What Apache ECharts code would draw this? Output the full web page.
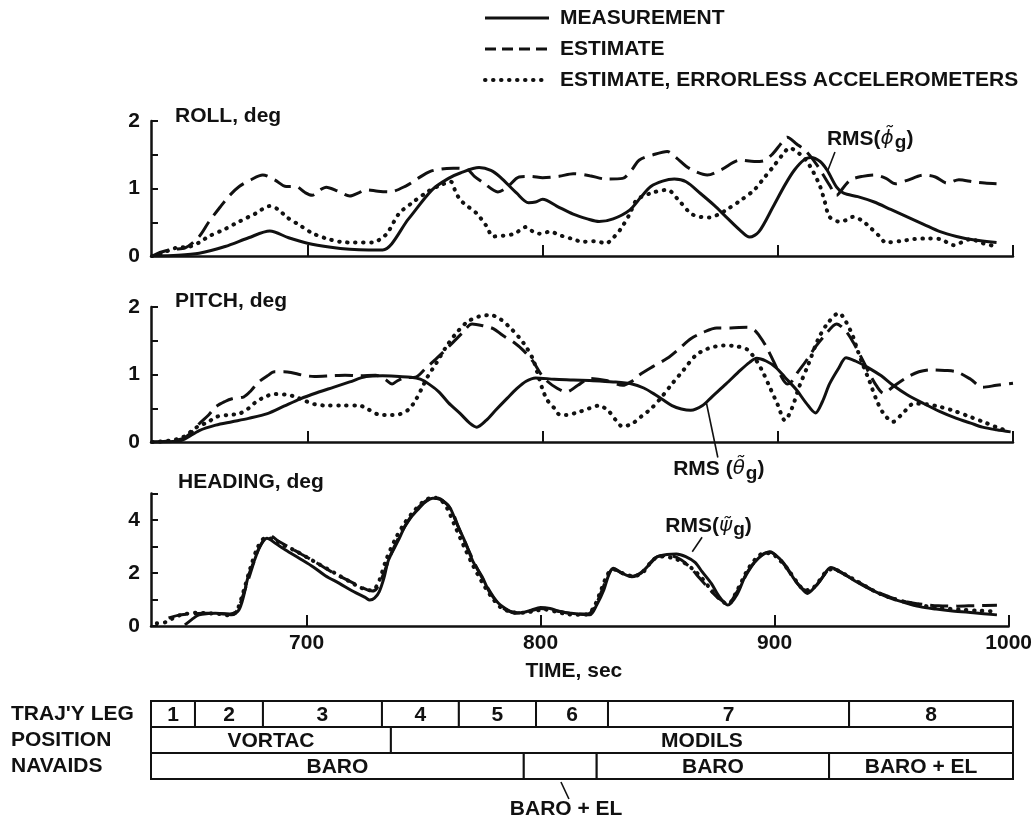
<!DOCTYPE html>
<html>
<head>
<meta charset="utf-8">
<script src="https://cdn.jsdelivr.net/npm/echarts@6/dist/echarts.min.js"></script>
<style>
  html, body { margin: 0; padding: 0; background: #fff; }
  #chart { width: 1035px; height: 821px; }
</style>
</head>
<body>
<div id="chart"></div>
<script>
// Time axis (sec) and its labelled ticks
const timeMin = 633.5;
const timeMax = 1000;
const timeTicks = [700, 800, 900, 1000];

const seriesNames = ['MEASUREMENT', 'ESTIMATE', 'ESTIMATE, ERRORLESS ACCELEROMETERS'];
const panelTitles = ['ROLL, deg', 'PITCH, deg', 'HEADING, deg'];

// ROLL, deg  [time, value]
const rollMeasurement = [[634,0],[645,0.01],[654,0.04],[665,0.14],[675,0.27],[684,0.37],[692,0.27],[700,0.19],[710,0.13],[718,0.10],[726,0.09],[732,0.09],[743,0.55],[753,0.98],[760,1.15],[765,1.23],[773,1.31],[778,1.27],[782,1.17],[789,0.93],[794,0.79],[797,0.80],[800,0.84],[806,0.74],[813,0.62],[819,0.55],[824,0.51],[830,0.55],[837,0.68],[842,0.88],[846,1.03],[851,1.11],[856,1.14],[861,1.10],[867,0.93],[873,0.75],[878,0.58],[884,0.38],[888,0.28],[892,0.36],[898,0.73],[903,1.05],[907,1.27],[911,1.42],[914,1.46],[918,1.40],[921,1.27],[925,1.02],[928,0.93],[934,0.88],[941,0.80],[948,0.69],[955,0.58],[962,0.47],[969,0.36],[976,0.29],[983,0.24],[993,0.20]];
const rollEstimate = [[634,0],[638,0.06],[643,0.10],[648,0.12],[654,0.29],[658,0.50],[663,0.73],[667,0.90],[671,1.03],[676,1.13],[681,1.20],[686,1.13],[691,1.03],[695,1.03],[699,0.94],[702,0.90],[705,0.97],[708,1.02],[713,0.96],[718,0.89],[722,0.94],[725,0.98],[730,0.96],[735,0.95],[742,1.04],[747,1.15],[752,1.25],[757,1.29],[762,1.30],[768,1.28],[771,1.18],[775,1.08],[781,0.95],[785,1.02],[790,1.17],[795,1.18],[800,1.16],[807,1.18],[813,1.22],[820,1.19],[827,1.14],[834,1.15],[838,1.28],[841,1.42],[847,1.50],[853,1.55],[857,1.45],[861,1.33],[865,1.25],[870,1.20],[876,1.28],[884,1.42],[890,1.40],[894,1.41],[898,1.52],[901,1.65],[904,1.76],[908,1.66],[912,1.55],[916,1.38],[919,1.22],[922,1.05],[925,0.90],[928,1.02],[931,1.13],[936,1.18],[941,1.20],[946,1.15],[950,1.07],[955,1.12],[962,1.20],[967,1.17],[972,1.08],[977,1.13],[983,1.10],[988,1.08],[993,1.07]];
const rollErrorless = [[634,0],[638,0.04],[644,0.12],[650,0.14],[654,0.20],[658,0.29],[665,0.40],[671,0.51],[678,0.63],[684,0.74],[688,0.68],[691,0.58],[697,0.45],[702,0.34],[708,0.26],[714,0.21],[720,0.20],[728,0.20],[731,0.25],[734,0.34],[739,0.63],[745,0.80],[751,0.95],[756,1.04],[761,1.10],[763,0.95],[765,0.83],[768,0.74],[772,0.63],[776,0.45],[779,0.29],[783,0.30],[788,0.33],[793,0.43],[796,0.36],[799,0.33],[803,0.36],[808,0.30],[813,0.25],[817,0.21],[822,0.22],[827,0.19],[830,0.27],[833,0.39],[837,0.62],[840,0.83],[846,0.93],[853,0.98],[858,0.82],[863,0.63],[867,0.58],[871,0.57],[875,0.62],[878,0.68],[884,0.82],[890,0.98],[894,1.15],[898,1.32],[902,1.50],[905,1.60],[909,1.52],[912,1.42],[915,1.25],[918,1.03],[920,0.80],[922,0.58],[926,0.51],[929,0.53],[932,0.58],[936,0.52],[939,0.43],[943,0.30],[946,0.20],[952,0.22],[958,0.25],[964,0.26],[969,0.25],[975,0.16],[978,0.20],[982,0.25],[987,0.19],[993,0.14]];

// PITCH, deg
const pitchMeasurement = [[634,0],[646,0.02],[654,0.17],[661,0.25],[668,0.30],[675,0.35],[683,0.42],[690,0.53],[697,0.64],[704,0.73],[711,0.81],[718,0.89],[725,0.97],[732,0.98],[739,0.97],[744,0.96],[748,0.93],[752,0.85],[756,0.74],[760,0.58],[765,0.42],[769,0.28],[772,0.22],[776,0.32],[780,0.47],[785,0.65],[789,0.79],[793,0.90],[797,0.95],[805,0.93],[813,0.92],[820,0.91],[830,0.89],[838,0.86],[843,0.80],[847,0.72],[851,0.63],[855,0.54],[859,0.49],[863,0.47],[868,0.54],[872,0.67],[878,0.86],[884,1.06],[888,1.18],[891,1.24],[895,1.20],[899,1.11],[903,0.96],[908,0.77],[912,0.58],[916,0.43],[919,0.60],[922,0.86],[926,1.10],[929,1.25],[933,1.20],[938,1.11],[944,0.98],[949,0.84],[955,0.70],[962,0.57],[969,0.45],[976,0.35],[982,0.28],[987,0.22],[993,0.18],[999,0.15]];
const pitchEstimate = [[634,0],[640,0.01],[647,0.05],[651,0.15],[654,0.27],[658,0.40],[661,0.52],[665,0.60],[668,0.64],[673,0.67],[676,0.76],[679,0.88],[683,0.98],[686,1.04],[690,1.04],[693,1.03],[698,0.99],[703,0.97],[710,0.98],[716,0.99],[722,0.98],[729,0.99],[733,0.93],[736,0.86],[738,0.90],[741,0.95],[746,0.96],[750,1.08],[754,1.21],[758,1.34],[762,1.48],[766,1.62],[770,1.75],[775,1.72],[779,1.68],[783,1.58],[788,1.47],[792,1.35],[796,1.19],[799,1.02],[802,0.90],[806,0.80],[810,0.74],[815,0.84],[820,0.94],[827,0.91],[834,0.84],[838,0.90],[841,0.99],[847,1.12],[853,1.24],[858,1.38],[863,1.53],[868,1.62],[874,1.69],[880,1.69],[887,1.70],[890,1.66],[892,1.58],[895,1.42],[898,1.21],[901,1.00],[904,0.86],[906,0.90],[908,1.01],[912,1.20],[916,1.41],[920,1.58],[925,1.75],[929,1.64],[932,1.48],[936,1.22],[939,1.01],[942,0.83],[945,0.72],[949,0.82],[955,0.96],[960,1.04],[965,1.07],[971,1.06],[976,1.04],[982,0.93],[987,0.81],[993,0.84],[1000,0.87]];
const pitchErrorless = [[634,0],[641,0.02],[647,0.07],[653,0.22],[658,0.30],[661,0.37],[666,0.40],[671,0.42],[675,0.50],[678,0.59],[682,0.67],[686,0.71],[691,0.70],[695,0.67],[699,0.61],[703,0.56],[708,0.54],[714,0.54],[722,0.54],[726,0.48],[730,0.41],[735,0.40],[739,0.41],[743,0.48],[746,0.62],[749,0.82],[751,0.96],[755,1.18],[759,1.41],[763,1.60],[768,1.78],[773,1.86],[778,1.88],[782,1.82],[786,1.70],[790,1.55],[793,1.41],[796,1.22],[798,1.00],[800,0.78],[802,0.62],[805,0.50],[807,0.41],[810,0.40],[815,0.44],[820,0.50],[824,0.54],[828,0.46],[831,0.33],[834,0.23],[838,0.27],[842,0.38],[846,0.49],[850,0.64],[855,0.86],[860,1.07],[865,1.28],[870,1.38],[877,1.43],[882,1.42],[887,1.37],[891,1.20],[894,1.01],[897,0.78],[900,0.55],[903,0.32],[906,0.50],[909,0.81],[913,1.15],[917,1.51],[921,1.75],[926,1.91],[929,1.78],[932,1.56],[934,1.35],[936,1.16],[939,0.90],[942,0.62],[945,0.42],[949,0.30],[953,0.42],[958,0.57],[963,0.56],[969,0.52],[975,0.46],[982,0.37],[988,0.29],[993,0.22],[997,0.17]];

// HEADING, deg
const headingMeasurement = [[648,0.04],[651,0.25],[654,0.42],[658,0.47],[661,0.48],[665,0.46],[668,0.42],[671,0.60],[673,1.10],[675,1.86],[678,2.55],[680,2.99],[683,3.31],[687,3.10],[691,2.87],[697,2.55],[703,2.22],[708,1.90],[714,1.61],[720,1.30],[725,1.08],[727,0.98],[729,1.05],[731,1.29],[733,1.80],[735,2.49],[739,3.20],[742,3.75],[745,4.15],[748,4.44],[751,4.70],[754,4.82],[757,4.78],[761,4.50],[764,3.90],[768,3.12],[771,2.45],[775,1.86],[778,1.30],[782,0.86],[786,0.60],[789,0.48],[793,0.52],[796,0.60],[800,0.70],[804,0.66],[808,0.55],[813,0.48],[817,0.44],[821,0.42],[824,0.80],[827,1.36],[829,1.90],[831,2.18],[835,1.98],[839,1.86],[843,2.00],[846,2.28],[850,2.62],[854,2.70],[858,2.72],[862,2.62],[866,2.40],[869,2.05],[873,1.60],[876,1.15],[880,0.79],[884,1.20],[888,1.99],[893,2.55],[898,2.80],[902,2.55],[905,2.24],[908,1.82],[911,1.48],[914,1.23],[917,1.45],[920,1.78],[924,2.21],[929,2.00],[934,1.72],[941,1.38],[948,1.10],[955,0.90],[962,0.73],[969,0.64],[976,0.57],[985,0.50],[995,0.42]];
const headingEstimate = [[641,0.30],[645,0.40],[650,0.45],[656,0.48],[661,0.48],[666,0.45],[670,0.55],[673,1.20],[676,2.00],[679,2.80],[682,3.30],[684,3.42],[688,3.20],[693,2.95],[698,2.70],[703,2.45],[708,2.18],[714,1.88],[720,1.62],[725,1.40],[728,1.32],[730,1.42],[733,2.00],[736,2.70],[740,3.45],[744,4.05],[748,4.50],[752,4.78],[755,4.85],[758,4.75],[762,4.35],[765,3.70],[769,2.90],[773,2.15],[777,1.50],[781,0.95],[785,0.62],[790,0.50],[795,0.55],[800,0.66],[805,0.60],[810,0.52],[815,0.45],[820,0.45],[823,0.70],[826,1.30],[829,1.95],[831,2.15],[835,1.98],[839,1.88],[843,2.02],[847,2.40],[850,2.62],[855,2.66],[860,2.50],[864,2.20],[868,1.80],[872,1.40],[876,1.05],[880,0.85],[884,1.30],[889,2.10],[894,2.65],[898,2.78],[902,2.55],[905,2.20],[909,1.68],[912,1.40],[915,1.32],[918,1.55],[921,1.90],[924,2.18],[929,1.98],[935,1.70],[942,1.35],[949,1.10],[956,0.92],[963,0.82],[970,0.76],[978,0.75],[986,0.77],[995,0.78]];
const headingErrorless = [[636,0.10],[640,0.15],[644,0.35],[648,0.45],[653,0.50],[658,0.48],[663,0.45],[667,0.40],[670,0.55],[673,1.30],[676,2.20],[679,2.95],[682,3.30],[685,3.30],[690,3.05],[695,2.85],[700,2.60],[706,2.30],[712,2.00],[718,1.70],[723,1.45],[727,1.35],[729,1.40],[731,1.70],[734,2.50],[738,3.30],[742,3.90],[746,4.35],[750,4.70],[754,4.85],[757,4.78],[760,4.45],[763,3.85],[767,3.05],[771,2.30],[775,1.65],[779,1.10],[783,0.70],[788,0.52],[793,0.50],[798,0.58],[802,0.62],[806,0.55],[811,0.45],[816,0.42],[820,0.44],[823,0.75],[826,1.40],[829,2.00],[832,2.12],[836,1.95],[840,1.88],[844,2.05],[848,2.50],[852,2.62],[857,2.55],[861,2.40],[865,2.15],[869,1.80],[873,1.35],[877,0.98],[880,0.82],[884,1.35],[889,2.20],[894,2.70],[898,2.75],[902,2.50],[906,2.10],[910,1.60],[913,1.35],[916,1.40],[919,1.70],[922,2.05],[925,2.15],[930,1.95],[936,1.65],[943,1.30],[950,1.05],[957,0.88],[964,0.76],[971,0.68],[979,0.62],[987,0.58],[995,0.55]];

// Mission table below the time axis: [start, end, text]
const tableRows = ["TRAJ'Y LEG", 'POSITION', 'NAVAIDS'];
const trajLegs = [[633.5,652.2,'1'],[652.2,681.1,'2'],[681.1,731.7,'3'],[731.7,764.4,'4'],[764.4,797.2,'5'],[797.2,827.8,'6'],[827.8,930.3,'7'],[930.3,1000,'8']];
const positionNavaids = [[633.5,735.5,'VORTAC'],[735.5,1000,'MODILS']];
const altitudeNavaids = [[633.5,792,'BARO'],[792,823,''],[823,921.8,'BARO'],[921.8,1000,'BARO + EL']];

const INK = '#111';
const FONT = '"Liberation Sans", Arial, sans-serif';
const boldText = { color: INK, fontFamily: FONT, fontWeight: 'bold', fontSize: 21 };

const gridBoxes = [
  { left: 151, right: 22, top: 121, height: 135 },
  { left: 151, right: 22, top: 307, height: 135 },
  { left: 151, right: 22, top: 493.5, height: 132.5 },
  { left: 151, right: 22, top: 701, height: 78 }
];

function timeAxis(i, withLabels) {
  return {
    type: 'value', gridIndex: i, min: timeMin, max: timeMax,
    show: i < 3,
    axisLine: { show: true, onZero: false, lineStyle: { color: INK, width: 2.5 } },
    axisTick: { show: true, inside: true, length: 11, customValues: timeTicks, lineStyle: { color: INK, width: 2 } },
    axisLabel: withLabels
      ? Object.assign({ show: true, customValues: timeTicks, margin: 7, formatter: v => String(v) }, boldText)
      : { show: false },
    splitLine: { show: false }
  };
}

function valueAxis(i, max, interval, labelled) {
  return {
    type: 'value', gridIndex: i, min: 0, max: max, interval: interval,
    axisLine: { show: true, lineStyle: { color: INK, width: 2.5 } },
    axisTick: { show: true, inside: true, length: 7, lineStyle: { color: INK, width: 2 } },
    axisLabel: Object.assign({ margin: 11, formatter: v => (labelled(v) ? String(v) : '') }, boldText),
    splitLine: { show: false }
  };
}

const dashPattern = [18, 8];
const dotPattern = [0.5, 7.5];

function lineSeries(name, i, data, type) {
  return {
    name: name, type: 'line', xAxisIndex: i, yAxisIndex: i, data: data,
    symbol: 'none', smooth: 0.3, animation: false, z: 3,
    itemStyle: { color: INK },
    lineStyle: {
      color: INK,
      width: type === 'dot' ? 4 : 3,
      type: type === 'solid' ? 'solid' : (type === 'dash' ? dashPattern : dotPattern),
      cap: type === 'dot' ? 'round' : 'butt'
    }
  };
}

function tableSeries(rowIndex, cells) {
  return {
    type: 'custom', xAxisIndex: 3, yAxisIndex: 3, clip: false, animation: false, silent: true,
    data: cells.map(c => [c[0], c[1], rowIndex]),
    encode: { x: [0, 1], y: 2 },
    renderItem: (params, api) => {
      const a = api.coord([api.value(0), api.value(2)]);
      const b = api.coord([api.value(1), api.value(2)]);
      const h = api.size([0, 1])[1];
      return {
        type: 'group',
        children: [
          { type: 'rect', shape: { x: a[0], y: a[1] - h / 2, width: b[0] - a[0], height: h },
            style: { fill: '#fff', stroke: INK, lineWidth: 2 } },
          { type: 'text', style: { text: cells[params.dataIndex][2], x: (a[0] + b[0]) / 2, y: a[1] + 1,
            textAlign: 'center', textVerticalAlign: 'middle', fill: INK,
            font: 'bold 21px ' + FONT } }
        ]
      };
    }
  };
}

const chart = echarts.init(document.getElementById('chart'), null, { renderer: 'canvas' });

chart.setOption({
  backgroundColor: '#fff',
  animation: false,
  title: panelTitles.map((t, i) => ({
    text: t, left: 175 + (i === 2 ? 3 : 0), top: [106, 291, 472][i], padding: 0,
    textStyle: boldText
  })),
  legend: {
    data: [
      { name: seriesNames[0], lineStyle: { width: 3 } },
      { name: seriesNames[1], lineStyle: { width: 3, type: [11, 6] } },
      { name: seriesNames[2], lineStyle: { width: 4, type: dotPattern, cap: 'round' } }
    ],
    orient: 'vertical', left: 483, top: 6, padding: 0,
    itemWidth: 64, itemHeight: 24, itemGap: 7, selectedMode: false,
    itemStyle: { opacity: 0 },
    textStyle: Object.assign({ padding: [0, 0, 0, 6], lineHeight: 24 }, boldText)
  },
  grid: gridBoxes,
  xAxis: [timeAxis(0, false), timeAxis(1, false), timeAxis(2, true), timeAxis(3, false)],
  yAxis: [
    valueAxis(0, 2, 0.5, v => Number.isInteger(v)),
    valueAxis(1, 2, 0.5, v => Number.isInteger(v)),
    valueAxis(2, 5, 1, v => v % 2 === 0),
    {
      type: 'category', gridIndex: 3, data: tableRows, inverse: true,
      axisLine: { show: false }, axisTick: { show: false },
      axisLabel: Object.assign({ align: 'left', margin: 140, interval: 0 }, boldText)
    }
  ],
  series: [
    lineSeries(seriesNames[0], 0, rollMeasurement, 'solid'),
    lineSeries(seriesNames[1], 0, rollEstimate, 'dash'),
    lineSeries(seriesNames[2], 0, rollErrorless, 'dot'),
    lineSeries(seriesNames[0], 1, pitchMeasurement, 'solid'),
    lineSeries(seriesNames[1], 1, pitchEstimate, 'dash'),
    lineSeries(seriesNames[2], 1, pitchErrorless, 'dot'),
    lineSeries(seriesNames[0], 2, headingMeasurement, 'solid'),
    lineSeries(seriesNames[1], 2, headingEstimate, 'dash'),
    lineSeries(seriesNames[2], 2, headingErrorless, 'dot'),
    tableSeries(0, trajLegs),
    tableSeries(1, positionNavaids),
    tableSeries(2, altitudeNavaids)
  ]
});

// RMS callouts, positioned in each panel's data space
const rmsRich = {
  a: { fontFamily: FONT, fontWeight: 'bold', fontSize: 21, lineHeight: 24, verticalAlign: 'top', color: INK },
  s: { fontFamily: '"DejaVu Sans"', fontStyle: 'italic', fontSize: 20, lineHeight: 24, verticalAlign: 'top', color: INK },
  g: { fontFamily: FONT, fontWeight: 'bold', fontSize: 19, lineHeight: 22, verticalAlign: 'bottom', padding: [14, 0, 0, 1], color: INK }
};
const callouts = [
  { panel: 0, text: '{a|RMS(}{s|\u03d5\u0303}{g|g}{a|)}', at: [920.9, 1.89], leader: [[924.3, 1.54], [921.3, 1.27]] },
  { panel: 1, text: '{a|RMS (}{s|\u03b8\u0303}{g|g}{a|)}', at: [855.5, -0.25], leader: [[869.7, 0.57], [874.5, -0.23]] },
  { panel: 2, text: '{a|RMS(}{s|\u03c8\u0303}{g|g}{a|)}', at: [853.3, 4.17], leader: [[869, 3.35], [864.8, 2.8]] }
];

const graphics = [];
callouts.forEach(c => {
  const finder = { xAxisIndex: c.panel, yAxisIndex: c.panel };
  const p = chart.convertToPixel(finder, c.at);
  const l0 = chart.convertToPixel(finder, c.leader[0]);
  const l1 = chart.convertToPixel(finder, c.leader[1]);
  graphics.push({ type: 'line', shape: { x1: l0[0], y1: l0[1], x2: l1[0], y2: l1[1] },
    style: { stroke: INK, lineWidth: 1.6 }, z: 10 });
  graphics.push({ type: 'text', x: p[0], y: p[1], z: 10,
    style: { text: c.text, rich: rmsRich, fill: INK } });
});

// Time axis title
const tPos = chart.convertToPixel({ xAxisIndex: 2, yAxisIndex: 2 }, [793.5, 0]);
graphics.push({ type: 'text', x: tPos[0], y: tPos[1] + 45, z: 10,
  style: { text: 'TIME, sec', font: 'bold 21px ' + FONT, fill: INK, textVerticalAlign: 'middle' } });

// Callout under the short BARO + EL navaid segment
const tf = { xAxisIndex: 3, yAxisIndex: 3 };
const rowA = chart.convertToPixel(tf, [808, 1]);
const rowB = chart.convertToPixel(tf, [808, 2]);
const rowBottom = rowB[1] + (rowB[1] - rowA[1]) / 2;
const c0 = chart.convertToPixel(tf, [807.8, 2]);
const c1 = chart.convertToPixel(tf, [811.2, 2]);
const c2 = chart.convertToPixel(tf, [810, 2]);
graphics.push({ type: 'line', shape: { x1: c0[0], y1: rowBottom + 3, x2: c1[0], y2: rowBottom + 20 },
  style: { stroke: INK, lineWidth: 1.6 }, z: 10 });
graphics.push({ type: 'text', x: c2[0], y: rowBottom + 30, z: 10,
  style: { text: 'BARO + EL', font: 'bold 21px ' + FONT, fill: INK, textAlign: 'center', textVerticalAlign: 'middle' } });

chart.setOption({ graphic: graphics });
</script>
</body>
</html>
